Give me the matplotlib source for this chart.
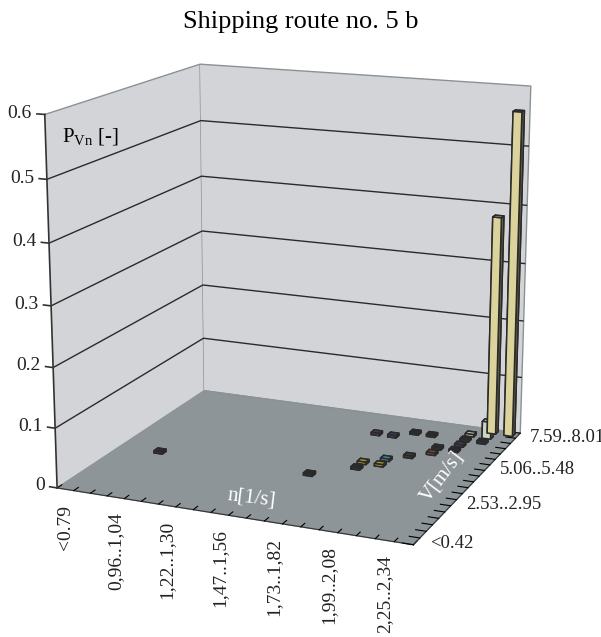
import matplotlib.pyplot as plt
import numpy as np
from matplotlib.transforms import ScaledTranslation
from mpl_toolkits.mplot3d import proj3d

plt.rcParams['font.family'] = 'serif'
plt.rcParams['font.serif'] = ['Liberation Serif', 'DejaVu Serif']
plt.rcParams['mathtext.fontset'] = 'custom'
plt.rcParams['mathtext.rm'] = 'Liberation Serif'

# n classes [1/s] along the front axis, only every third one is labelled
n_labels = ["<0.79", "", "", "0,96..1,04", "", "", "1,22..1,30", "", "",
            "1,47..1,56", "", "", "1,73..1,82", "", "", "1,99..2,08", "", "",
            "2,25..2,34", ""]
# V classes [m/s] along the depth axis
v_labels = ["<0.42", "", "", "", "", "", "2.53..2.95", "", "", "", "", "",
            "5.06..5.48", "", "", "", "", "", "7.59..8.01"]
z_ticks = [0, 0.1, 0.2, 0.3, 0.4, 0.5, 0.6]
z_labels = ["0", "0.1", "0.2", "0.3", "0.4", "0.5", "0.6"]

# probability P_Vn per (n class, V class)
bar_n = [19, 18, 18, 2, 11, 13, 13, 14, 14, 15, 16, 16, 17, 17, 17, 18,
         12, 13, 14, 15, 17]
bar_v = [18, 18, 17, 7, 7, 9, 10, 10, 11, 12, 13, 14, 14, 15, 16, 16,
         15, 15, 16, 16, 17]
bar_p = [0.56, 0.38, 0.03, 0.004, 0.004, 0.004, 0.004, 0.004, 0.004,
         0.004, 0.004, 0.004, 0.004, 0.004, 0.004, 0.004,
         0.004, 0.004, 0.004, 0.004, 0.004]

# one colour per V series (Excel style)
row_colors = ["#3a3a3a", "#3a3a3a", "#3a3a3a", "#3a3a3a", "#3a3a3a",
              "#3a3a3a", "#3a3a3a", "#3a3a3a", "#3a3a3a", "#3a3a3a",
              "#c8b444", "#45b4c4", "#4a4a4a", "#a05858", "#3a3a3a",
              "#5a4a86", "#3a3a3a", "#e8f0da", "#f8efb0"]

fig = plt.figure(figsize=(6.01, 6.37), dpi=100)
ax = fig.add_axes([-0.08, 0.01, 1.12, 1.06], projection='3d',
                  proj_type='persp', focal_length=0.55)
ax.view_init(elev=15, azim=-67)
ax.set_box_aspect((1.0, 0.9, 1.0), zoom=0.9)

dx = 0.5
dy = 0.5
xs = np.array(bar_n) + 0.5 - dx / 2
ys = np.array(bar_v) + 0.5 - dy / 2
cols = [row_colors[v] for v in bar_v]
ax.bar3d(xs, ys, np.zeros(len(bar_p)), dx, dy, bar_p, color=cols,
         edgecolor='#2a2a2a', linewidth=1.1, shade=True)

nx = len(n_labels)
ny = len(v_labels)
ax.set_xlim(0, nx)
ax.set_ylim(0, ny)
ax.set_zlim(0, 0.6)

# walls and floor
wall = '#d3d4d8'
ax.xaxis.set_pane_color(wall)
ax.yaxis.set_pane_color(wall)
ax.zaxis.set_pane_color('#8e9598')
for a in (ax.xaxis, ax.yaxis, ax.zaxis):
    a.pane.set_edgecolor('#8a9295')
    a.line.set_color('#333333')
    a._axinfo['tick']['inward_factor'] = 0.0
    a._axinfo['tick']['outward_factor'] = 0.35
    a._axinfo['tick']['color'] = '#333333'

ax.grid(True)
ax.xaxis._axinfo['grid']['color'] = (0, 0, 0, 0)
ax.yaxis._axinfo['grid']['color'] = (0, 0, 0, 0)
ax.zaxis._axinfo['grid']['color'] = '#2a2a2a'
ax.zaxis._axinfo['grid']['linewidth'] = 1.0

ax.set_xticks(np.arange(nx + 1))
ax.set_xticklabels([])
ax.set_yticks(np.arange(ny + 1))
ax.set_yticklabels([])

# gridlines only between floor and top edge; the value axis itself is drawn
# on the front-left edge, as in Excel
ax.set_zticks(z_ticks[1:-1])
ax.set_zticklabels([])
ax.zaxis.line.set_color((0, 0, 0, 0))
ax.zaxis._axinfo['tick']['outward_factor'] = 0.0
ax.plot([0, 0], [0, 0], [z_ticks[0], z_ticks[-1]], color='#333333', lw=1.2)
for z, lab in zip(z_ticks, z_labels):
    ax.plot([0, -0.45], [0, 0], [z, z], color='#333333', lw=1.2)
    ax.text(-0.75, 0, z, lab, ha='right', va='center', fontsize=14,
            color='#222222')

for j, lab in enumerate(v_labels):
    if lab:
        ax.text(nx + 0.7, j + 0.5, 0, lab, ha='left', va='center',
                fontsize=13.5, color='#222222')

# vertical category labels below the front edge
fig.canvas.draw()
below = ax.transData + ScaledTranslation(0, -11 / 72, fig.dpi_scale_trans)
for i, lab in enumerate(n_labels):
    if lab:
        px, py, _ = proj3d.proj_transform(i + 0.5, 0, 0, ax.get_proj())
        ax.text2D(px, py, lab, transform=below, rotation=90, ha='center',
                  va='top', fontsize=14, color='#222222')

fig.text(0.5, 1 - 22 / 637, "Shipping route no. 5 b", ha='center',
         va='center', fontsize=19)
fig.text(62 / 601, 1 - 137 / 637, r"P$_{\mathrm{Vn}}$ [-]", ha='left',
         va='center', fontsize=15)
fig.text(252 / 601, 1 - 498 / 637, "n[1/s]", ha='center', va='center',
         fontsize=15, color='white', rotation=-7)
fig.text(442 / 601, 1 - 477 / 637, "V[m/s]", ha='center', va='center',
         fontsize=15, color='white', rotation=53)

plt.savefig('out.png', dpi=100)
